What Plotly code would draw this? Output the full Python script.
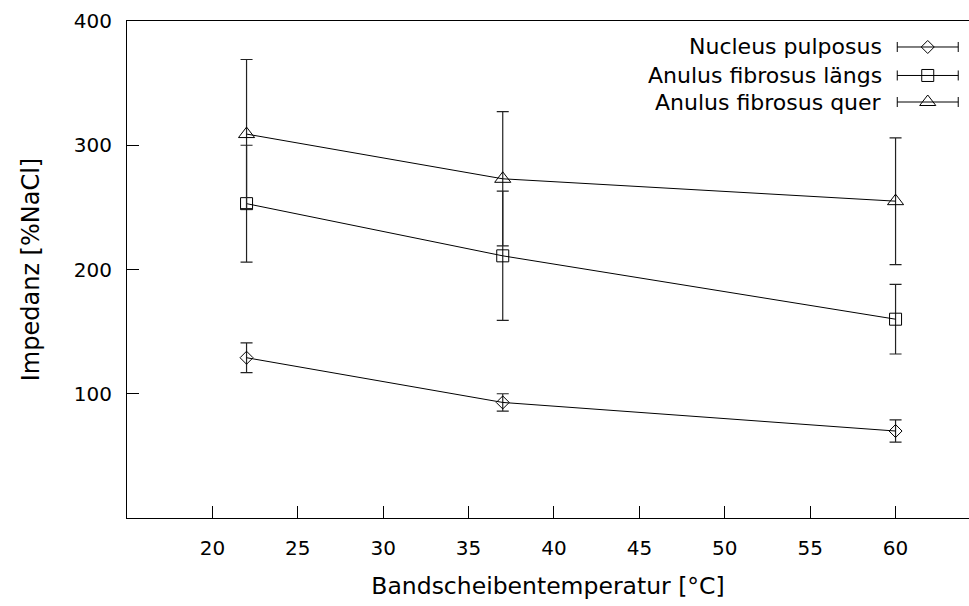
import plotly.graph_objects as go

# ---- data ----
temps = [22, 37, 60]
series_names = ["Nucleus pulposus", "Anulus fibrosus längs", "Anulus fibrosus quer"]
np_mean = [129, 93, 70]
np_err = [12, 7, 9]
afl_mean = [253, 211, 160]
afl_err = [47, 52, 28]
afq_mean = [309, 273, 255]
afq_err = [60, 54, 51]
x_ticks = [20, 25, 30, 35, 40, 45, 50, 55, 60]
y_ticks = [100, 200, 300, 400]

means = [np_mean, afl_mean, afq_mean]
errs = [np_err, afl_err, afq_err]

# ---- styles ----
symbols = ["diamond-open", "square-open", "triangle-up-open"]
sizes = [10, 12, 14]
FONT = "DejaVu Sans"
W, H = 969, 606
ML, MR, MT, MB = 127, 0, 21, 88

# legend key layout (fractions of plot area)
LEG_X = 0.951
LEG_HALF = 0.0362
LEG_Y = [0.9477, 0.8904, 0.837]
LEG_TEXT_X = 0.899

fig = go.Figure()
for name, m, e, sym, sz in zip(series_names, means, errs, symbols, sizes):
    fig.add_trace(go.Scatter(
        x=temps, y=m, mode="lines+markers", name=name,
        line=dict(color="black", width=1),
        marker=dict(symbol=sym, size=sz, color="black", line=dict(width=1, color="black")),
        error_y=dict(type="data", array=e, visible=True, color="#222", thickness=1.2, width=6),
        showlegend=False,
    ))

# custom gnuplot-style legend keys
for name, ly, sym, sz in zip(series_names, LEG_Y, symbols, sizes):
    fig.add_trace(go.Scatter(
        x=[LEG_X], y=[ly], xaxis="x2", yaxis="y2", mode="markers",
        marker=dict(symbol=sym, size=sz, color="black", line=dict(width=1, color="black")),
        error_x=dict(type="constant", value=LEG_HALF, visible=True, color="black", thickness=1, width=5),
        showlegend=False, hoverinfo="skip",
    ))
    fig.add_annotation(x=LEG_TEXT_X, y=ly, xref="paper", yref="paper", text=name,
                       showarrow=False, xanchor="right", yanchor="middle",
                       font=dict(family=FONT, size=22, color="black"))

fig.update_layout(
    width=W, height=H,
    margin=dict(l=ML, r=MR, t=MT, b=MB),
    paper_bgcolor="white", plot_bgcolor="white",
    font=dict(family=FONT, size=20, color="black"),
    xaxis=dict(range=[15, 64.3], tickvals=x_ticks, ticks="inside", ticklen=12,
               tickcolor="black", showline=True, linecolor="black", linewidth=1,
               mirror=True, showgrid=False, zeroline=False,
               ticklabelstandoff=12,
               title=dict(text="Bandscheibentemperatur [°C]", font=dict(size=23.5), standoff=18)),
    yaxis=dict(range=[0, 400], tickvals=y_ticks, ticks="inside", ticklen=12,
               tickcolor="black", showline=True, linecolor="black", linewidth=1,
               mirror=False, showgrid=False, zeroline=False,
               ticklabelstandoff=10,
               title=dict(text="Impedanz [%NaCl]", font=dict(size=24), standoff=27)),
    xaxis2=dict(range=[0, 1], overlaying="x", anchor="y2", visible=False),
    yaxis2=dict(range=[0, 1], overlaying="y", anchor="x2", visible=False),
)

fig.write_html("out.html")
